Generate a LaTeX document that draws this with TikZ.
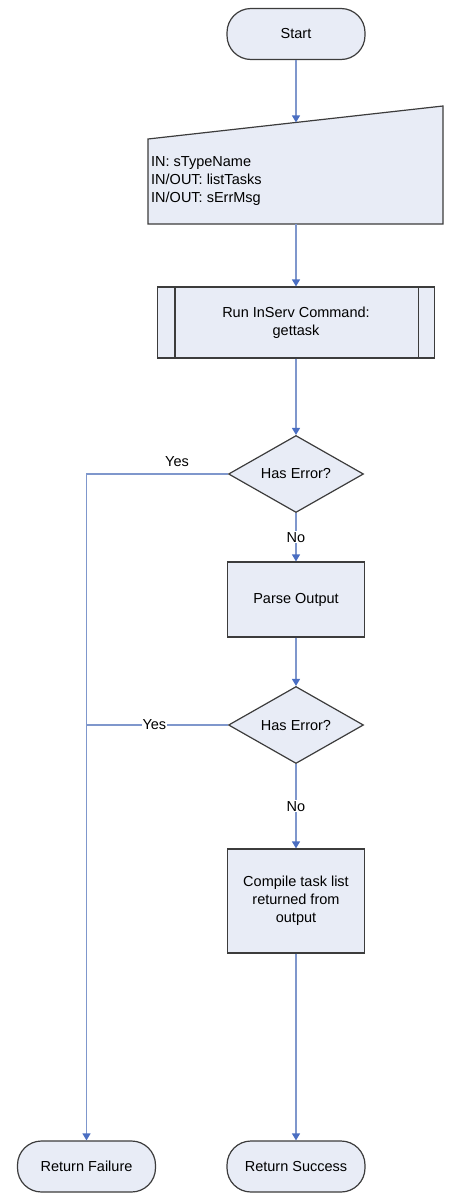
\documentclass[tikz,border=0pt]{standalone}
\usepackage{fontspec}
\setmainfont{Liberation Sans}
\usetikzlibrary{shapes.geometric,arrows.meta,calc}
\definecolor{boxfill}{HTML}{E8ECF6}
\definecolor{boxline}{HTML}{3C3C3C}
\definecolor{connc}{HTML}{7F97CC}
\definecolor{tipc}{HTML}{4A6EC2}
\begin{document}
\begin{tikzpicture}[x=1pt,y=-1pt,
  every node/.style={font=\fontsize{14.5}{18}\selectfont},
  term/.style={draw=boxline, fill=boxfill, line width=1.2pt, rectangle, rounded corners=24pt, minimum width=138pt, minimum height=51pt, inner sep=0},
  procbox/.style={draw=boxline, fill=boxfill, line width=1.2pt, rectangle, inner sep=0, align=center},
  decision/.style={draw=boxline, fill=boxfill, line width=1.2pt, diamond, aspect=1.75, minimum width=135pt, minimum height=77pt, inner sep=0},
  conn/.style={draw=connc, line width=1.4pt},
  arr/.style={conn, -{Triangle[width=8pt,length=7pt,color=tipc]}},
  lbl/.style={fill=white, inner sep=1pt}
]
\useasboundingbox (0,0) rectangle (466,1202);
\node[term] (start) at (296,34) {Start};
\path[draw=boxline, fill=boxfill, line width=1.2pt] (148,139) -- (443,106) -- (443,224) -- (148,224) -- cycle;
\coordinate (intop) at (296,122.4);
\coordinate (inbot) at (296,224);
\node[anchor=west, align=left, inner sep=0] (intext) at (151,181) {IN: sTypeName\\IN/OUT: listTasks\\IN/OUT: sErrMsg};
\node[procbox, minimum width=277pt, minimum height=71pt] (run) at (296,322.5) {Run InServ Command:\\gettask};
\draw[boxline, line width=1.2pt] ($(run.north west)+(18,0)$) -- ($(run.south west)+(18,0)$);
\draw[boxline, line width=1.2pt] ($(run.north east)+(-17,0)$) -- ($(run.south east)+(-17,0)$);
\node[decision] (d1) at (296,474) {Has Error?};
\node[procbox, minimum width=137pt, minimum height=75pt] (parse) at (296,599.5) {Parse Output};
\node[decision] (d2) at (296,725) {Has Error?};
\node[procbox, minimum width=137pt, minimum height=104pt] (compile) at (296,901) {Compile task list\\returned from\\output};
\node[term] (fail) at (86.5,1166.5) {Return Failure};
\node[term] (succ) at (296,1166.5) {Return Success};
\draw[arr] (start) -- (intop);
\draw[arr] (inbot) -- (run);
\draw[arr] (run) -- (d1);
\draw[arr] (d1) -- node[lbl]{No} (parse);
\draw[arr] (parse) -- (d2);
\draw[arr] (d2) -- node[lbl]{No} (compile);
\draw[arr] (compile) -- (succ);
\draw[arr] (d1.west) -| node[pos=0.18, above=3pt]{Yes} (fail.north);
\draw[conn] (d2.west) -- node[lbl, pos=0.52]{Yes} (d2.west -| fail.north);
\end{tikzpicture}
\end{document}
